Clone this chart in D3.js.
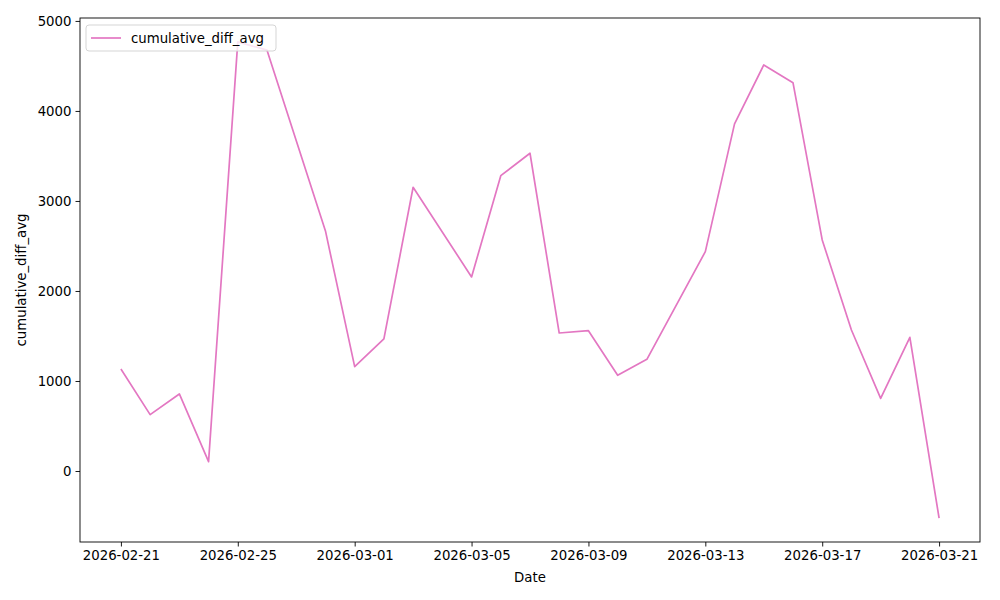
<!DOCTYPE html>
<html>
<head>
<meta charset="utf-8">
<script src="https://cdn.jsdelivr.net/npm/d3@7"></script>
<style>
    body { margin: 0; background: #fff; }
    svg text { font-family: "DejaVu Sans", sans-serif; fill: #000; }
</style>
</head>
<body>
<div class="chart"></div>
<script>
// dates with a reading (some days have none, line just joins across)
const dates = [
    "2026-02-21", "2026-02-22", "2026-02-23", "2026-02-24", "2026-02-25", "2026-02-26",
    "2026-02-28", "2026-03-01", "2026-03-02", "2026-03-03", "2026-03-05", "2026-03-06",
    "2026-03-07", "2026-03-08", "2026-03-09", "2026-03-10", "2026-03-11", "2026-03-13",
    "2026-03-14", "2026-03-15", "2026-03-16", "2026-03-17", "2026-03-18", "2026-03-19",
    "2026-03-20", "2026-03-21"
]
const cumulativeDiffAvg = [
    1133, 626, 856, 104, 4768, 4675,
    2667, 1159, 1467, 3152, 2156, 3281,
    3530, 1533, 1559, 1063, 1241, 2437,
    3856, 4511, 4314, 2567, 1567, 807,
    1485, -524
]
const xTicks = ["2026-02-21", "2026-02-25", "2026-03-01", "2026-03-05", "2026-03-09",
    "2026-03-13", "2026-03-17", "2026-03-21"]
const yTicks = [0, 1000, 2000, 3000, 4000, 5000]
const seriesName = "cumulative_diff_avg"

const parse = d3.utcParse("%Y-%m-%d")
const data = dates.map((d, i) => ({ date: parse(d), value: cumulativeDiffAvg[i] }))

const width = 1000,
    height = 600,
    margin = { top: 18, right: 20, bottom: 58, left: 80 }
const innerW = width - margin.left - margin.right,
    innerH = height - margin.top - margin.bottom

const svg = d3.select(".chart").append("svg")
    .attr("width", width)
    .attr("height", height)

const g = svg.append("g")
    .attr("transform", `translate(${margin.left},${margin.top})`)

// matplotlib style 5% margins
function padded(ext) {
    const span = ext[1] - ext[0]
    return [ext[0] - span * 0.05, ext[1] + span * 0.05]
}
const xExt = d3.extent(data, d => d.date.getTime())
const x = d3.scaleUtc().domain(padded(xExt)).range([0, innerW])
const y = d3.scaleLinear().domain(padded(d3.extent(data, d => d.value))).range([innerH, 0])

const color = "#e377c2"

const line = d3.line()
    .x(d => x(d.date))
    .y(d => y(d.value))

g.append("path")
    .datum(data)
    .attr("fill", "none")
    .attr("stroke", color)
    .attr("stroke-width", 1.7)
    .attr("stroke-linejoin", "round")
    .attr("d", line)

const xAxis = d3.axisBottom(x)
    .tickValues(xTicks.map(parse))
    .tickFormat(d3.utcFormat("%Y-%m-%d"))
    .tickSize(4.5)
    .tickPadding(4)
const yAxis = d3.axisLeft(y)
    .tickValues(yTicks)
    .tickFormat(d3.format("d"))
    .tickSize(4.5)
    .tickPadding(4)

const gx = g.append("g")
    .attr("transform", `translate(0,${innerH})`)
    .call(xAxis)
const gy = g.append("g").call(yAxis)

for (const ax of [gx, gy]) {
    ax.select(".domain").remove()
    ax.selectAll(".tick line").attr("stroke", "#000").attr("stroke-width", 0.9)
    ax.selectAll(".tick text").attr("font-size", 13.3).attr("font-family", "DejaVu Sans")
}

// frame
g.append("rect")
    .attr("width", innerW)
    .attr("height", innerH)
    .attr("fill", "none")
    .attr("stroke", "#000")
    .attr("stroke-width", 0.9)

svg.append("text")
    .attr("x", margin.left + innerW / 2)
    .attr("y", 582)
    .attr("text-anchor", "middle")
    .attr("font-size", 13.3)
    .text("Date")

svg.append("text")
    .attr("transform", `translate(26,${margin.top + innerH / 2}) rotate(-90)`)
    .attr("text-anchor", "middle")
    .attr("font-size", 13.3)
    .text(seriesName)

// legend
const legend = g.append("g").attr("transform", "translate(6,7)")
legend.append("rect")
    .attr("width", 190)
    .attr("height", 26)
    .attr("rx", 3)
    .attr("fill", "#fff")
    .attr("fill-opacity", 0.8)
    .attr("stroke", "#d5d5d5")
legend.append("line")
    .attr("x1", 5).attr("x2", 35)
    .attr("y1", 13).attr("y2", 13)
    .attr("stroke", color)
    .attr("stroke-width", 1.7)
legend.append("text")
    .attr("x", 45)
    .attr("y", 17.5)
    .attr("font-size", 13.3)
    .text(seriesName)
</script>
</body>
</html>
